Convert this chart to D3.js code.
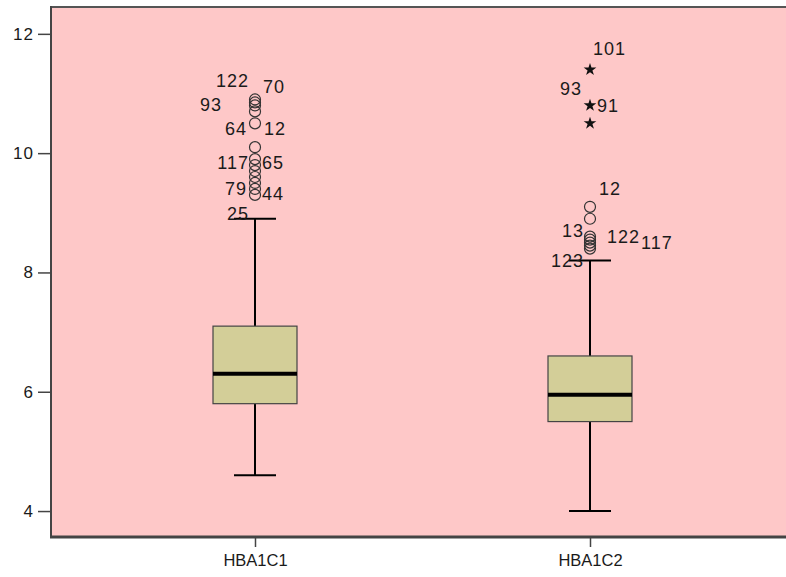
<!DOCTYPE html>
<html>
<head>
<meta charset="utf-8">
<script src="https://cdn.jsdelivr.net/npm/d3@7/dist/d3.min.js"></script>
<style>
  html, body { margin: 0; padding: 0; background: #ffffff; }
  svg { display: block; }
  text { font-family: "Liberation Sans", Arial, sans-serif; fill: #1a1a1a; }
</style>
</head>
<body>
<svg id="chart" width="786" height="577"></svg>
<script>
// Variables shown on the x axis
const categories = ["HBA1C1", "HBA1C2"];

// Five-number summaries (whisker low, Q1, median, Q3, whisker high)
const whiskerLow  = [4.6, 4.0];
const q1          = [5.8, 5.5];
const medians     = [6.3, 5.95];
const q3          = [7.1, 6.6];
const whiskerHigh = [8.9, 8.2];

// Outliers (circles) and extreme values (stars)
const outliers1 = [10.9, 10.85, 10.8, 10.7, 10.5, 10.1, 9.9, 9.8, 9.7, 9.6, 9.5, 9.4, 9.3];
const outliers2 = [9.1, 8.9, 8.6, 8.55, 8.5, 8.45, 8.4];
const extremes1 = [];
const extremes2 = [11.4, 10.8, 10.5];

// Case-number labels: [variable index, value, case id]
const caseLabels = [
  [0, 10.9, "122"], [0, 10.9, "70"], [0, 10.8, "93"],
  [0, 10.5, "64"], [0, 10.5, "12"],
  [0, 9.9, "117"], [0, 9.9, "65"],
  [0, 9.4, "79"], [0, 9.3, "44"], [0, 8.9, "25"],
  [1, 11.4, "101"], [1, 10.8, "93"], [1, 10.8, "91"],
  [1, 9.1, "12"], [1, 8.6, "13"], [1, 8.5, "122"], [1, 8.5, "117"],
  [1, 8.2, "123"]
];

// Y axis tick values
const yTicks = [4, 6, 8, 10, 12];

// Label placement relative to its mark: [anchor, dx, dy]
const labelPlacement = [
  ["end", -6, -19], ["start", 8, -13], ["end", -33, -1],
  ["end", -8, 5], ["start", 9, 5],
  ["end", -6, 4], ["start", 7, 4],
  ["end", -8, 0], ["start", 7, -1], ["end", -6, -5],
  ["start", 3, -21], ["end", -8, -17], ["start", 7, 0],
  ["start", 9, -18], ["end", -6, -6], ["start", 17, -6], ["start", 51, 0],
  ["end", -6, 0]
];

const svg = d3.select("#chart");
const plot = { left: 51, top: 7, right: 786, bottom: 537 };

const y = d3.scaleLinear().domain([3.565, 12.45]).range([plot.bottom, plot.top]);
const x = d3.scalePoint().domain(categories)
  .range([plot.left + 204, plot.left + 539]);

const boxW = 84, capW = 42;

// Plot background
svg.append("rect")
  .attr("x", plot.left).attr("y", plot.top)
  .attr("width", plot.right - plot.left + 2).attr("height", plot.bottom - plot.top)
  .attr("fill", "#fec8c8");

// Top frame line
svg.append("line")
  .attr("x1", plot.left).attr("x2", plot.right)
  .attr("y1", plot.top).attr("y2", plot.top)
  .attr("stroke", "#555").attr("stroke-width", 2);

const g = svg.append("g");

categories.forEach((c, i) => {
  const cx = x(c);
  // Whiskers
  g.append("line").attr("x1", cx).attr("x2", cx)
    .attr("y1", y(whiskerHigh[i])).attr("y2", y(q3[i]))
    .attr("stroke", "#000").attr("stroke-width", 2);
  g.append("line").attr("x1", cx).attr("x2", cx)
    .attr("y1", y(q1[i])).attr("y2", y(whiskerLow[i]))
    .attr("stroke", "#000").attr("stroke-width", 2);
  [whiskerHigh[i], whiskerLow[i]].forEach(v => {
    g.append("line").attr("x1", cx - capW / 2).attr("x2", cx + capW / 2)
      .attr("y1", y(v)).attr("y2", y(v))
      .attr("stroke", "#000").attr("stroke-width", 2);
  });
  // Box
  g.append("rect")
    .attr("x", cx - boxW / 2).attr("y", y(q3[i]))
    .attr("width", boxW).attr("height", y(q1[i]) - y(q3[i]))
    .attr("fill", "#d3ce98").attr("stroke", "#444").attr("stroke-width", 1.2);
  // Median
  g.append("line").attr("x1", cx - boxW / 2).attr("x2", cx + boxW / 2)
    .attr("y1", y(medians[i])).attr("y2", y(medians[i]))
    .attr("stroke", "#000").attr("stroke-width", 4);
});

// Outlier circles
[outliers1, outliers2].forEach((vals, i) => {
  g.selectAll(null).data(vals).enter().append("circle")
    .attr("cx", x(categories[i])).attr("cy", d => y(d))
    .attr("r", 5.5).attr("fill", "none")
    .attr("stroke", "#333").attr("stroke-width", 1.2);
});

// Extreme value stars
const star = d3.symbol().type(d3.symbolStar).size(50);
[extremes1, extremes2].forEach((vals, i) => {
  g.selectAll(null).data(vals).enter().append("path")
    .attr("d", star)
    .attr("transform", d => `translate(${x(categories[i])},${y(d)})`)
    .attr("fill", "#111");
});

// Case labels
g.selectAll(null).data(caseLabels).enter().append("text")
  .attr("x", (d, k) => x(categories[d[0]]) + labelPlacement[k][1])
  .attr("y", (d, k) => y(d[1]) + labelPlacement[k][2])
  .attr("dy", "0.35em")
  .attr("text-anchor", (d, k) => labelPlacement[k][0])
  .style("font-size", "18px")
  .style("letter-spacing", "1px")
  .text(d => d[2]);

// Y axis
const yAxis = svg.append("g")
  .attr("transform", `translate(${plot.left},0)`)
  .call(d3.axisLeft(y).tickValues(yTicks).tickFormat(d3.format("d")).tickSize(13).tickPadding(4));
yAxis.select(".domain").attr("stroke", "#444").attr("stroke-width", 2)
  .attr("d", `M0,${plot.top - 1}V${plot.bottom}`);
yAxis.selectAll(".tick line").attr("stroke", "#444").attr("stroke-width", 1.5);
yAxis.selectAll(".tick text").style("font-size", "17px").style("letter-spacing", "1px")
  .attr("fill", "#1a1a1a");

// X axis
const xAxis = svg.append("g")
  .attr("transform", `translate(0,${plot.bottom})`)
  .call(d3.axisBottom(x).tickSize(10).tickPadding(7));
xAxis.select(".domain").attr("stroke", "#444").attr("stroke-width", 3)
  .attr("d", `M${plot.left - 1},0H${plot.right}`);
xAxis.selectAll(".tick line").attr("stroke", "#444").attr("stroke-width", 1.5);
xAxis.selectAll(".tick text").style("font-size", "16.5px").attr("fill", "#1a1a1a");
</script>
</body>
</html>
